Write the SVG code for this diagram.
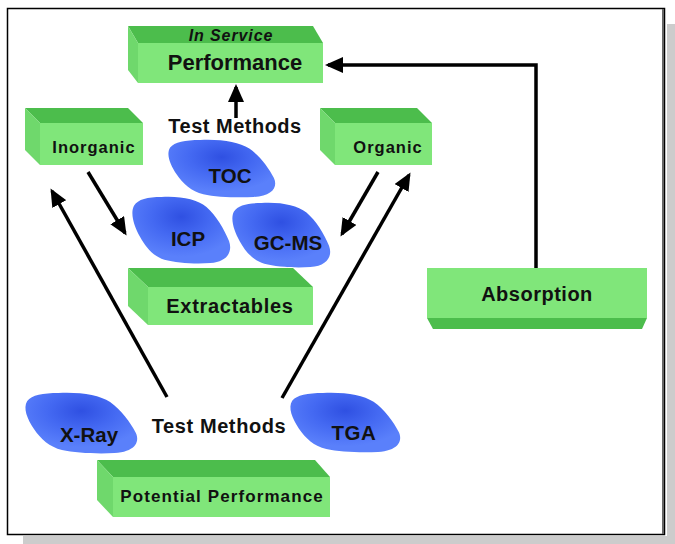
<svg xmlns="http://www.w3.org/2000/svg" width="675" height="544" viewBox="0 0 675 544">
<style>
.top{fill:#4cbd4c}
.front{fill:#80e67a}
.side{fill:#6fd86c}
.bot{fill:#4cbd4c}
.t{font-family:"Liberation Sans",Arial,Helvetica,sans-serif;font-weight:bold;fill:#111;text-anchor:middle}
.blob{fill:url(#bg)}
.ln{stroke:#000;stroke-width:3.5;fill:none;marker-end:url(#ah)}
</style>
<defs>
<radialGradient id="bg" cx="0.5" cy="0.3" r="0.6">
<stop offset="0" stop-color="#2f50e2"/>
<stop offset="0.5" stop-color="#4469f2"/>
<stop offset="1" stop-color="#5a80fb"/>
</radialGradient>
<path id="blobp" d="M30,0 C50,-1 66,2 76,9 C86,17 94,29 99,40 C103,50 97,59 80,60 C65,61 45,60 33,57 C22,54 14,46 8,36 C2,26 -2,15 2,8 C6,2 16,0 30,0 Z"/>
<marker id="ah" markerUnits="userSpaceOnUse" markerWidth="18" markerHeight="16" refX="15" refY="8" orient="auto">
<path d="M0,0 L18,8 L0,16 Z" fill="#000"/>
</marker>
</defs>
<rect x="667" y="24" width="8" height="520" fill="#cccccc"/>
<rect x="23" y="536" width="652" height="8" fill="#cccccc"/>
<rect x="7.5" y="8.5" width="657" height="526" fill="#fff" stroke="#000" stroke-width="1.5"/>
<line x1="663" y1="9" x2="663" y2="534" stroke="#666" stroke-width="2"/>

<g id="connectors">
<line class="ln" x1="236" y1="118" x2="236" y2="87"/>
<polyline class="ln" stroke-width="3" points="536,268 536,65 328,65"/>
<line class="ln" x1="88" y1="172" x2="125" y2="233"/>
<line class="ln" x1="378" y1="172" x2="342" y2="234"/>
<line class="ln" x1="167" y1="397" x2="52" y2="191"/>
<line class="ln" x1="282" y1="398" x2="409" y2="175"/>
</g>

<g id="performance">
<polygon class="top" points="128,26 313,26 323,43 138,43"/>
<polygon class="side" points="128,26 138,43 138,83 128,70"/>
<rect class="front" x="138" y="43" width="185" height="40"/>
<text class="t" x="231" y="41" font-size="16" font-style="italic" letter-spacing="0.9">In Service</text>
<text class="t" x="235" y="70" font-size="22">Performance</text>
</g>

<g id="test-methods-top">
<text class="t" x="235" y="133" font-size="20" letter-spacing="0.5">Test Methods</text>
</g>

<g id="inorganic">
<polygon class="top" points="25,108 128,108 143,123 40,123"/>
<polygon class="side" points="25,108 40,123 40,165 25,150"/>
<rect class="front" x="40" y="123" width="103" height="42"/>
<text class="t" x="94" y="153" font-size="16.5" letter-spacing="1">Inorganic</text>
</g>

<g id="organic">
<polygon class="top" points="320,108 417,108 432,123 335,123"/>
<polygon class="side" points="320,108 335,123 335,165 320,150"/>
<rect class="front" x="335" y="123" width="97" height="42"/>
<text class="t" x="388" y="153" font-size="16.5" letter-spacing="1">Organic</text>
</g>

<g id="toc">
<use href="#blobp" class="blob" transform="translate(168,140) scale(1.07,0.95)"/>
<text class="t" x="230" y="183" font-size="20.5">TOC</text>
</g>

<g id="icp">
<use href="#blobp" class="blob" transform="translate(132,197) scale(0.98,1.1)"/>
<text class="t" x="188" y="246" font-size="20.5">ICP</text>
</g>

<g id="gcms">
<use href="#blobp" class="blob" transform="translate(232,203) scale(0.98,1.067)"/>
<text class="t" x="288" y="250" font-size="20.5">GC-MS</text>
</g>

<g id="extractables">
<polygon class="top" points="128,268 293,268 313,287 148,287"/>
<polygon class="side" points="128,268 148,287 148,325 128,306"/>
<rect class="front" x="148" y="287" width="165" height="38"/>
<text class="t" x="230" y="313" font-size="20" letter-spacing="0.7">Extractables</text>
</g>

<g id="absorption">
<rect class="front" x="427" y="268" width="220" height="50"/>
<polygon class="bot" points="427,318 647,318 642,329 433,329"/>
<text class="t" x="537" y="301" font-size="20" letter-spacing="0.5">Absorption</text>
</g>

<g id="xray">
<use href="#blobp" class="blob" transform="translate(25,393) scale(1.12,1)"/>
<text class="t" x="89" y="442" font-size="20.5">X-Ray</text>
</g>

<g id="test-methods-bottom">
<text class="t" x="219" y="433" font-size="20" letter-spacing="0.6">Test Methods</text>
</g>

<g id="tga">
<use href="#blobp" class="blob" transform="translate(290,393) scale(1.1,0.983)"/>
<text class="t" x="354" y="440" font-size="20.5" letter-spacing="0.6">TGA</text>
</g>

<g id="potential-performance">
<polygon class="top" points="97,460 315,460 330,477 113,477"/>
<polygon class="side" points="97,460 113,477 113,517 97,500"/>
<rect class="front" x="113" y="477" width="217" height="40"/>
<text class="t" x="222" y="502" font-size="17" letter-spacing="1.1">Potential Performance</text>
</g>
</svg>
